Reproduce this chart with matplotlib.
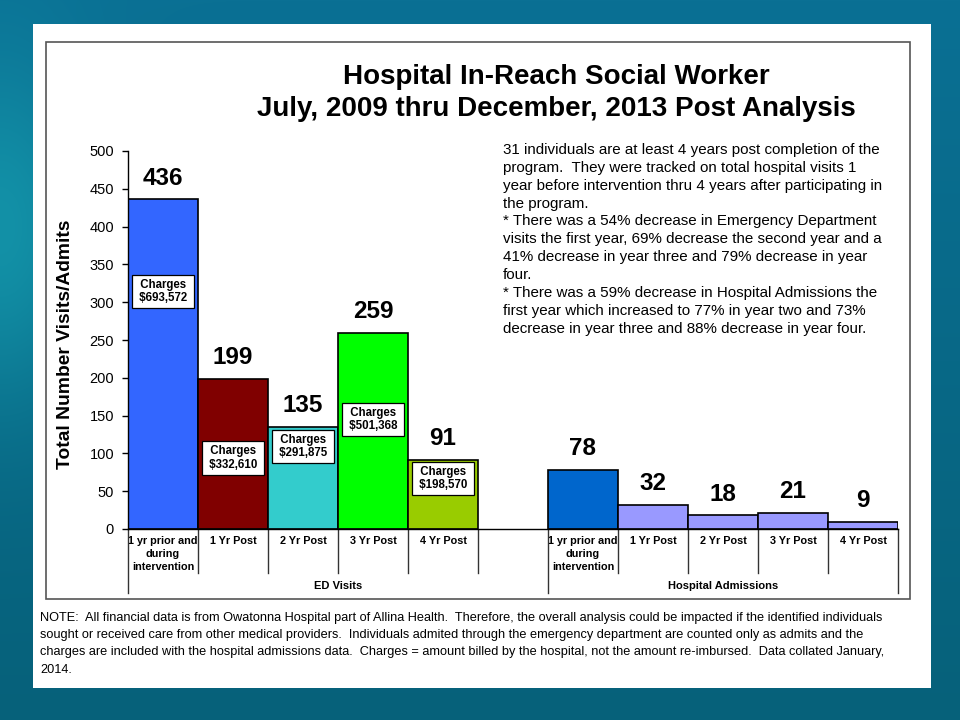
import numpy as np
import matplotlib
matplotlib.use("Agg")
import matplotlib.pyplot as plt
from matplotlib.patches import Rectangle
from matplotlib.transforms import blended_transform_factory

plt.rcParams['font.family'] = ['Liberation Sans', 'DejaVu Sans']

# data
cat_labels = ['1 yr prior and\nduring\nintervention', '1 Yr Post', '2 Yr Post', '3 Yr Post', '4 Yr Post']
ed_visits = [436, 199, 135, 259, 91]
ed_charges = ['$693,572', '$332,610', '$291,875', '$501,368', '$198,570']
ha_admits = [78, 32, 18, 21, 9]
groups = ['ED Visits', 'Hospital Admissions']

title = 'Hospital In-Reach Social Worker\nJuly, 2009 thru December, 2013 Post Analysis'
summary = ("31 individuals are at least 4 years post completion of the\n"
           "program.  They were tracked on total hospital visits 1\n"
           "year before intervention thru 4 years after participating in\n"
           "the program.\n"
           "* There was a 54% decrease in Emergency Department\n"
           "visits the first year, 69% decrease the second year and a\n"
           "41% decrease in year three and 79% decrease in year\n"
           "four.\n"
           "* There was a 59% decrease in Hospital Admissions the\n"
           "first year which increased to 77% in year two and 73%\n"
           "decrease in year three and 88% decrease in year four.")
note = ("NOTE:  All financial data is from Owatonna Hospital part of Allina Health.  Therefore, the overall analysis could be impacted if the identified individuals\n"
        "sought or received care from other medical providers.  Individuals admited through the emergency department are counted only as admits and the\n"
        "charges are included with the hospital admissions data.  Charges = amount billed by the hospital, not the amount re-imbursed.  Data collated January,\n"
        "2014.")

# styles / layout
ed_colors = ['#3366ff', '#800000', '#33cccc', '#00ff00', '#99cc00']
ha_colors = ['#0066cc', '#9999ff', '#9999ff', '#9999ff', '#9999ff']
charge_box_y = [314, 94, 109, 145, 67]

W, H = 960, 720
def fx(x): return x / W
def fy(y): return 1 - y / H

fig = plt.figure(figsize=(9.6, 7.2), dpi=100)

# slide background gradient
bg = fig.add_axes([0, 0, 1, 1])
bg.set_zorder(-3)
yy, xx = np.mgrid[0:H, 0:W]
top = np.array([10, 112, 148]) / 255
bot = np.array([6, 97, 122]) / 255
t = (yy / H)[..., None]
img = top * (1 - t) + bot * t
glow = np.exp(-((xx - 0) ** 2 / 9000.0 + (yy - 230) ** 2 / 30000.0))[..., None]
img = img * (1 - 0.6 * glow) + np.array([25, 170, 185]) / 255 * 0.6 * glow
bg.imshow(np.clip(img, 0, 1), aspect='auto', extent=[0, 1, 0, 1])
bg.add_patch(Rectangle((fx(33), fy(688)), fx(931) - fx(33), fy(24) - fy(688),
                       transform=bg.transAxes, fc='white', ec='none'))
bg.add_patch(Rectangle((fx(46), fy(599)), fx(910) - fx(46), fy(42) - fy(599),
                       transform=bg.transAxes, fc='none', ec='#555555', lw=1.2))
bg.set_xlim(0, 1)
bg.set_ylim(0, 1)
bg.axis('off')

ax = fig.add_axes([fx(128), fy(529), fx(898) - fx(128), fy(151) - fy(529)])
ax.set_facecolor('none')

n = len(cat_labels)
ed_x = np.arange(n)
ha_x = np.arange(n) + n + 1

ax.bar(ed_x, ed_visits, width=1.0, color=ed_colors, edgecolor='black', linewidth=1.2, zorder=2)
ax.bar(ha_x, ha_admits, width=1.0, color=ha_colors, edgecolor='black', linewidth=1.2, zorder=2)

for x, v in list(zip(ed_x, ed_visits)) + list(zip(ha_x, ha_admits)):
    ax.annotate(str(v), (x, v), xytext=(0, 7), textcoords='offset points',
                ha='center', va='bottom', fontsize=17.5, fontweight='bold')

for x, c, yb in zip(ed_x, ed_charges, charge_box_y):
    ax.text(x, yb, ' Charges \n ' + c + ' ', ha='center', va='center', fontsize=8.3,
            fontweight='bold', multialignment='center', linespacing=1.15, zorder=3,
            bbox=dict(boxstyle='square,pad=0.35', fc='white', ec='black', lw=0.9))

ax.set_xlim(-0.5, 2 * n + 0.5)
ax.set_ylim(0, 500)
ax.set_yticks(np.arange(0, 501, 50))
ax.tick_params(axis='y', labelsize=10.5, length=4, width=1, pad=6)
ax.set_xticks(np.concatenate([ed_x, ha_x]))
ax.set_xticklabels(cat_labels * 2, fontsize=7.8, fontweight='bold', linespacing=1.4)
ax.tick_params(axis='x', length=0, pad=5)
for s in ['top', 'right']:
    ax.spines[s].set_visible(False)
for s in ['left', 'bottom']:
    ax.spines[s].set_linewidth(1)

# separators under the categories
tr = blended_transform_factory(ax.transData, ax.transAxes)
inner = [i + 0.5 for i in range(n)] + [i + 0.5 for i in range(n + 1, 2 * n)]
outer = [-0.5, n + 0.5, 2 * n + 0.5]
for x in inner:
    ax.plot([x, x], [0, -0.117], transform=tr, color='#333333', lw=1, clip_on=False)
for x in outer:
    ax.plot([x, x], [0, -0.17], transform=tr, color='#333333', lw=1, clip_on=False)
for g, (a, b) in zip(groups, [(outer[0], outer[1]), (outer[1], outer[2])]):
    ax.text((a + b) / 2, -0.15, g, transform=tr, ha='center', va='center',
            fontsize=8, fontweight='bold')

fig.text(fx(66), fy(344), 'Total Number Visits/Admits', rotation=90, ha='center', va='center',
         fontsize=13.9, fontweight='bold')
fig.text(fx(556), fy(93), title, ha='center', va='center', fontsize=20, fontweight='bold',
         linespacing=1.28)
fig.text(fx(503), fy(143), summary, ha='left', va='top', fontsize=10.9, linespacing=1.35)
fig.text(fx(40), fy(612), note, ha='left', va='top', fontsize=9.2, linespacing=1.58)

fig.savefig('out.png', dpi=100)
